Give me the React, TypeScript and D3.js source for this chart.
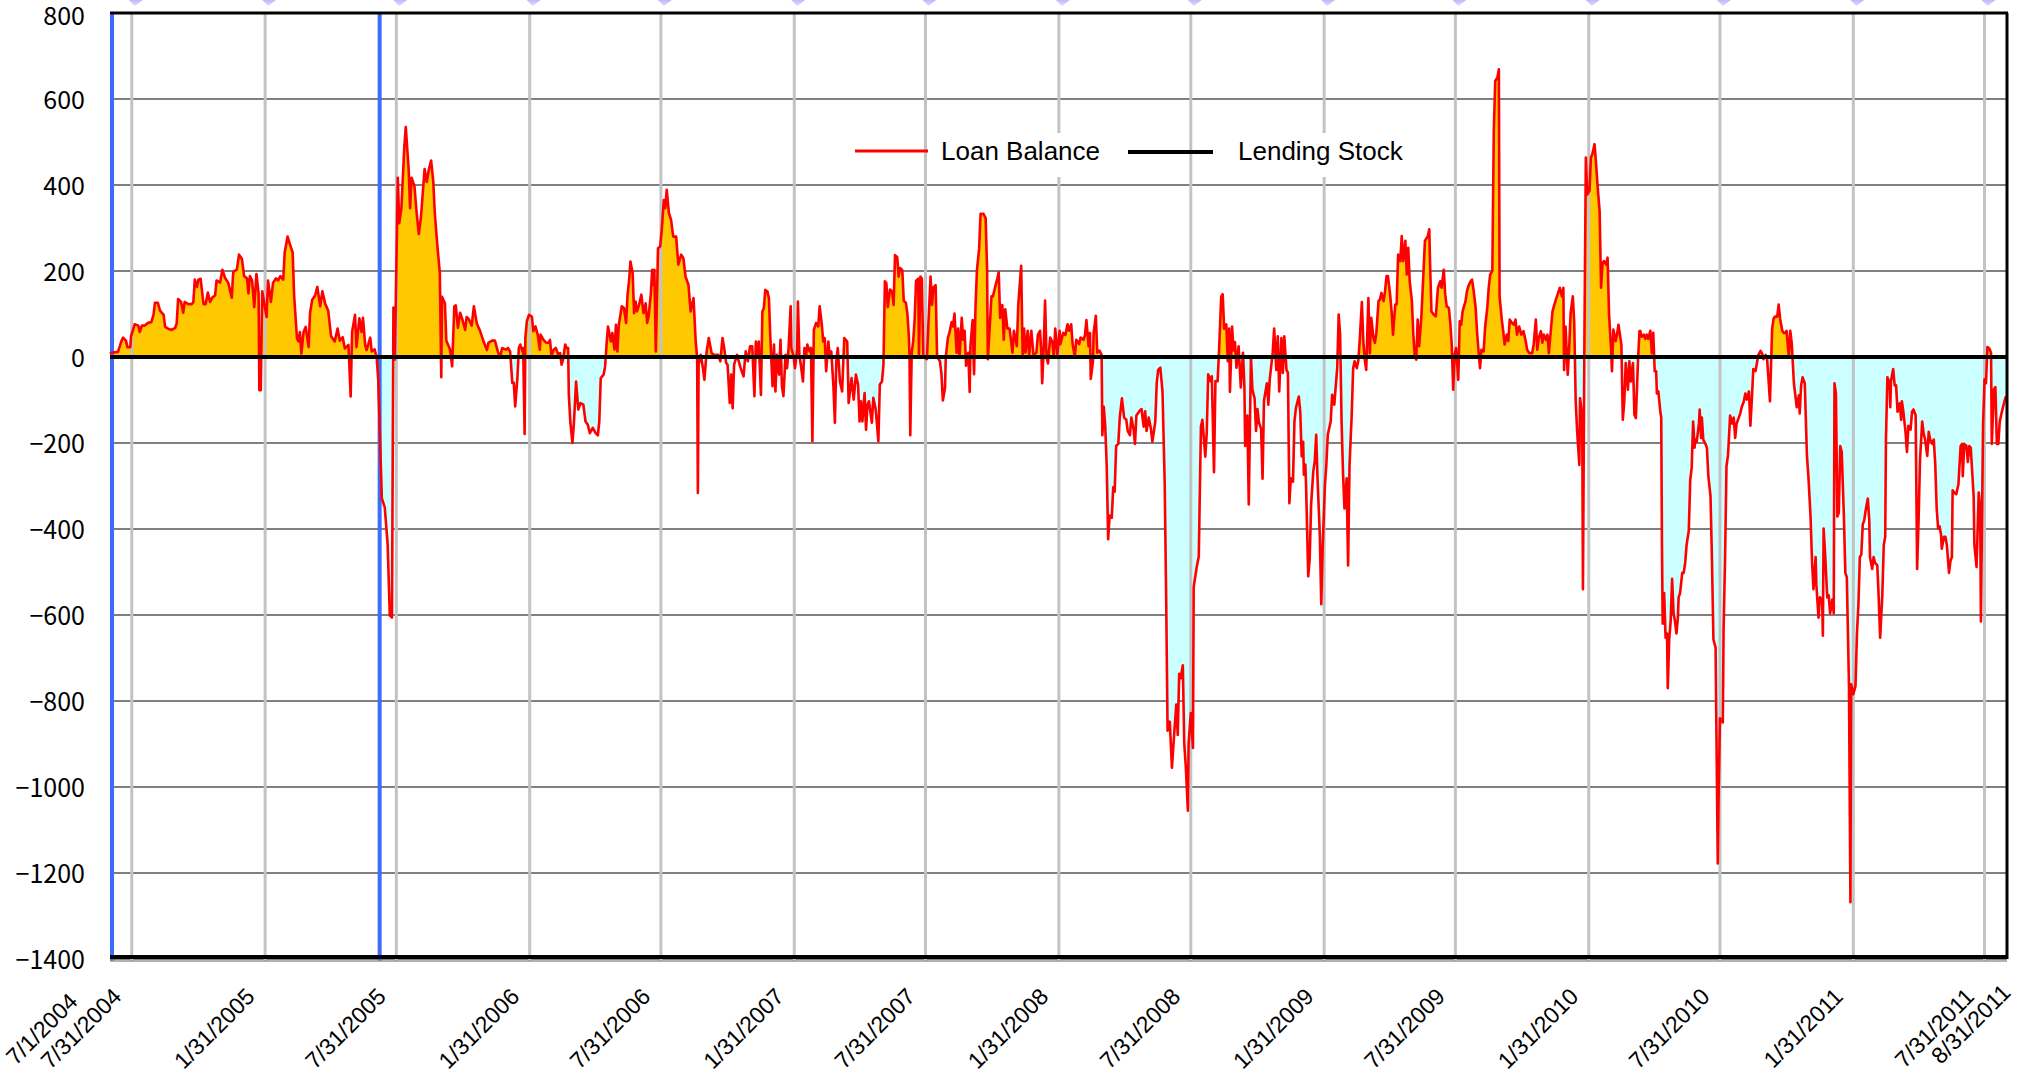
import React from "react";
import * as d3 from "d3";

// ---- axis / labels ----
const START_DATE = "7/1/2004";
const END_DATE = "8/31/2011";
const xTickLabels = [
  "7/1/2004", "7/31/2004", "1/31/2005", "7/31/2005", "1/31/2006", "7/31/2006",
  "1/31/2007", "7/31/2007", "1/31/2008", "7/31/2008", "1/31/2009", "7/31/2009",
  "1/31/2010", "7/31/2010", "1/31/2011", "7/31/2011", "8/31/2011",
];
const gridDates = xTickLabels.slice(1, -1);
const yTicks = [800, 600, 400, 200, 0, -200, -400, -600, -800, -1000, -1200, -1400];
const markerDates = ["7/1/2004", "7/8/2005"];
const legendNames = ["Loan Balance", "Lending Stock"];
const lendingStockLevel = 0;

// ---- Loan Balance: [days since 7/1/2004, value] ----
const loan2004: [number, number][] = [
  [0, 8], [2, 10], [11, 12], [16, 38], [18, 45], [22, 38], [24, 23], [28, 23], [29, 48], [34, 76],
  [39, 73], [41, 58], [44, 73], [48, 73], [53, 80], [57, 81], [60, 98], [62, 126], [66, 126], [69, 108],
  [74, 98], [76, 70], [80, 66], [85, 63], [90, 68], [92, 78], [94, 135], [98, 128], [101, 103], [103, 128],
  [108, 123], [113, 123], [115, 128], [117, 180], [120, 163], [122, 180], [125, 182], [129, 123], [132, 123],
  [135, 150], [138, 128], [141, 138], [145, 143], [147, 178], [152, 173], [155, 203], [159, 183], [163, 173],
  [168, 138], [170, 198], [175, 203], [178, 238], [182, 228],
];
const loan2005: [number, number][] = [
  [185, 188], [189, 183], [191, 148], [193, 188], [196, 178], [199, 116], [202, 193], [205, 148], [206, -77],
  [208, -77], [210, 153], [216, 93], [218, 178], [222, 128], [225, 173], [229, 183], [232, 178], [235, 188],
  [239, 180], [241, 243], [245, 280], [248, 263], [252, 243], [254, 143], [258, 43], [260, 36], [262, 58],
  [264, 8], [267, 58], [270, 70], [274, 23], [276, 103], [279, 133], [283, 143], [286, 163], [290, 118],
  [293, 153], [297, 123], [301, 108], [305, 48], [310, 36], [314, 66], [317, 38], [321, 46], [324, 20],
  [329, 28], [332, -92], [334, 58], [338, 98], [340, 23], [344, 90], [347, 58], [349, 91], [352, 28],
  [354, 16], [359, 45], [361, 13], [365, 18], [368, -2], [370, -52], [375, -329], [379, -349], [383, -435],
  [386, -601], [389, -606], [391, 115], [393, -6], [397, 417], [399, 311], [402, 346], [406, 488], [408, 535],
  [412, 437], [414, 346], [416, 417], [420, 397], [423, 336], [426, 286], [429, 326], [434, 437], [437, 407],
  [440, 437], [443, 457], [446, 407], [448, 336], [452, 251], [455, 196], [457, -47], [458, 140], [462, 125],
  [464, 38], [469, 18], [472, -22], [475, 118], [477, 120], [480, 68], [483, 103], [486, 88], [490, 63],
  [492, 93], [495, 88], [499, 73], [502, 118], [506, 78], [510, 63], [515, 38], [520, 16], [522, 33],
  [527, 38], [531, 38], [535, 13], [538, -2], [541, 21], [546, 17],
];
const loan2006: [number, number][] = [
  [549, 21], [552, 13], [555, -60], [557, -60], [559, -115], [562, -49], [564, 21], [566, 29], [569, 13],
  [570, 21], [572, -179], [573, 44], [575, 83], [578, 98], [582, 94], [584, 60], [587, 71], [590, 52],
  [593, 17], [594, 52], [598, 40], [602, 33], [605, 33], [607, 40], [609, 2], [612, 17], [615, 21], [618, 7],
  [621, 9], [623, -18], [625, -6], [628, 29], [630, 21], [632, 21], [633, -88], [635, -150], [638, -200],
  [640, -153], [643, -57], [646, -122], [649, -107], [653, -111], [656, -150], [659, -157], [662, -177],
  [666, -165], [670, -177], [673, -182], [675, -150], [677, -49], [681, -41], [683, -22], [685, 29],
  [687, 71], [691, 36], [693, 56], [696, 17], [698, 75], [700, 13], [702, 75], [706, 118], [709, 114],
  [712, 79], [714, 145], [716, 176], [718, 222], [721, 195], [723, 102], [725, 129], [727, 106], [730, 122],
  [733, 145], [736, 102], [739, 125], [741, 79], [743, 94], [746, 145], [748, 203], [750, 168], [751, 203],
  [753, 13], [756, 253], [759, 257], [761, 292], [764, 365], [766, 346], [768, 389], [771, 335], [774, 319],
  [777, 280], [781, 280], [784, 215], [788, 238], [791, 230], [794, 187], [798, 168], [801, 106], [805, 137],
  [808, 36], [810, -2], [811, -316], [812, -18], [815, 5], [818, -26], [820, -53], [823, 11], [826, 44],
  [830, 9], [833, 5], [839, 5], [842, -10], [845, 44], [848, 13], [850, -14], [852, -18], [855, -107],
  [857, -41], [859, -119], [861, -18], [865, 5], [868, -14], [870, -26], [874, -45], [877, 13], [880, -10],
  [883, 25], [886, 25], [889, -91], [891, 36], [893, 5], [895, 36], [898, -88], [900, 106], [902, 114],
  [904, 156], [907, 152], [909, 137], [911, 44],
];
const loan2007: [number, number][] = [
  [914, -68], [916, 29], [918, -80], [920, 5], [923, -41], [925, 40], [927, -68], [929, -91], [932, 5],
  [934, -26], [936, 17], [939, 118], [940, 21], [943, 2], [945, -26], [948, 17], [949, 129], [951, 5],
  [953, -18], [956, -57], [958, 21], [960, -2], [962, 29], [965, 13], [967, 21], [969, -196], [971, 63],
  [974, 79], [977, 71], [979, 118], [982, 75], [984, 36], [986, 44], [988, -33], [991, 36], [993, -2],
  [995, 13], [998, -68], [1000, -153], [1002, -10], [1004, 21], [1007, -57], [1010, -80], [1013, 44],
  [1017, 36], [1019, -107], [1023, -49], [1026, -99], [1029, -41], [1032, -64], [1034, -150], [1036, -103],
  [1038, -150], [1041, -84], [1043, -169], [1045, -111], [1047, -103], [1051, -153], [1053, -95],
  [1056, -119], [1057, -134], [1060, -196], [1062, -64], [1065, -57], [1067, -18], [1069, 176], [1071, 172],
  [1073, 116], [1076, 157], [1079, 152], [1081, 121], [1083, 237], [1086, 232], [1088, 187], [1090, 207],
  [1093, 202], [1095, 131], [1098, 126], [1100, 101], [1102, 51], [1103, 0], [1104, -182], [1106, 10],
  [1108, 35], [1110, 86], [1112, 177], [1115, 182], [1116, 0], [1118, 187], [1120, 182], [1122, 0],
  [1127, -5], [1129, 76], [1132, 187], [1134, 121], [1136, 162], [1139, 167], [1141, 0], [1145, -10],
  [1147, -40], [1149, -101], [1152, -71], [1153, 0], [1156, 45], [1158, 56], [1161, 81], [1163, 71],
  [1165, 101], [1168, 10], [1170, 66], [1172, 0], [1175, 91], [1177, 40], [1179, 61], [1181, -20],
  [1184, 10], [1186, -81], [1187, 25], [1190, 86], [1192, -40], [1194, 116], [1196, 202], [1199, 252],
  [1201, 333], [1205, 333], [1208, 323], [1210, 202], [1211, -5], [1214, 81], [1216, 141], [1218, 141],
  [1221, 162], [1224, 182], [1226, 197], [1228, 91], [1231, 121], [1233, 40], [1235, 111], [1238, 66],
  [1241, 66], [1245, 10], [1247, 61], [1251, 25], [1253, 121], [1255, 167], [1257, 212], [1259, 5],
  [1261, 66], [1263, 10], [1266, 61], [1268, 5], [1271, 61], [1274, 5], [1278, 10],
];
const loan2008: [number, number][] = [
  [1280, 51], [1283, 61], [1285, 5], [1286, -61], [1288, 20], [1290, 131], [1292, 0], [1294, -15],
  [1297, 45], [1300, 35], [1302, 0], [1304, 66], [1307, 5], [1310, 61], [1311, 30], [1315, 56], [1318, 51],
  [1321, 76], [1323, 61], [1326, 76], [1328, 30], [1331, 0], [1333, 40], [1337, 30], [1339, 45], [1343, 40],
  [1345, 51], [1347, 86], [1350, 25], [1352, 56], [1353, -51], [1356, -10], [1357, 56], [1360, 96],
  [1362, 10], [1365, 15], [1368, 5], [1369, -182], [1371, -116], [1373, -162], [1375, -252], [1377, -424],
  [1379, -369], [1382, -374], [1384, -303], [1386, -313], [1388, -207], [1391, -202], [1393, -141],
  [1396, -96], [1399, -141], [1402, -146], [1404, -172], [1407, -182], [1409, -141], [1412, -167],
  [1414, -202], [1416, -136], [1420, -126], [1423, -121], [1426, -162], [1428, -126], [1430, -172],
  [1433, -141], [1436, -167], [1438, -197], [1442, -151], [1444, -61], [1446, -30], [1449, -25], [1452, -81],
  [1455, -293], [1457, -556], [1459, -869], [1462, -848], [1465, -955], [1468, -879], [1471, -808],
  [1473, -879], [1475, -737], [1477, -747], [1480, -717], [1482, -899], [1484, -949], [1487, -1055],
  [1488, -899], [1491, -828], [1494, -909], [1495, -535], [1499, -490], [1502, -464], [1505, -162],
  [1507, -146], [1511, -232], [1513, -177], [1515, -40], [1518, -56], [1520, -45], [1523, -268], [1525, -56],
  [1528, -56], [1530, 15], [1533, 141], [1535, 146], [1537, 66], [1540, 76], [1542, -10], [1544, 66],
  [1545, -81], [1548, 71], [1550, 15], [1552, 35], [1554, -25], [1557, 25], [1560, -71], [1563, 10],
  [1565, -71], [1566, -207], [1569, -136], [1571, -343], [1574, 0], [1576, -76], [1579, -96], [1581, -172],
  [1583, -121], [1585, -152], [1588, -167], [1590, -283], [1592, -101], [1596, -61], [1598, -111],
  [1600, -51], [1604, 10], [1606, 66], [1609, -30], [1611, 48], [1613, -80], [1616, 44], [1618, -37],
  [1620, 48], [1623, -30], [1625, -37], [1627, -340], [1629, -282], [1632, -290], [1634, -150], [1636, -119],
  [1640, -92], [1642, -127], [1644, -231],
];
const loan2009: [number, number][] = [
  [1646, -197], [1647, -274], [1649, -250], [1650, -297], [1653, -510], [1655, -470], [1657, -344],
  [1660, -266], [1662, -243], [1664, -181], [1666, -290], [1669, -414], [1671, -575], [1673, -440],
  [1676, -300], [1678, -250], [1680, -181], [1684, -150], [1686, -88], [1689, -111], [1690, -88], [1693, -26],
  [1695, 99], [1697, 52], [1699, -150], [1701, -270], [1703, -352], [1706, -282], [1708, -485], [1710, -251],
  [1713, -134], [1715, -26], [1717, -10], [1720, -26], [1722, -10], [1724, 37], [1727, 128], [1729, 37],
  [1731, -6], [1733, -30], [1736, 137], [1738, 9], [1740, 91], [1743, 44], [1745, 33], [1747, 56], [1750, 130],
  [1752, 134], [1754, 149], [1757, 130], [1759, 153], [1761, 188], [1763, 188], [1766, 145], [1768, 106],
  [1770, 52], [1773, 122], [1775, 122], [1777, 238], [1780, 223], [1782, 281], [1784, 223], [1787, 270],
  [1789, 192], [1791, 254], [1793, 176], [1796, 130], [1798, 52], [1800, 2], [1802, -6], [1804, 87],
  [1806, 25], [1809, 91], [1811, 161], [1814, 270], [1818, 281], [1820, 297], [1821, 223], [1823, 106],
  [1826, 99], [1829, 95], [1832, 161], [1835, 176], [1837, 161], [1840, 203], [1842, 145], [1844, 118],
  [1847, 114], [1849, 79], [1851, 29], [1853, -76], [1855, 5], [1857, 21], [1860, -53], [1862, 83],
  [1864, 75], [1866, 106], [1870, 130], [1872, 153], [1874, 165], [1877, 176], [1879, 180], [1881, 157],
  [1884, 114], [1886, 56], [1888, 13], [1890, -26], [1892, 17], [1895, 13], [1897, 68], [1900, 114],
  [1902, 161], [1904, 192], [1907, 200], [1909, 526], [1911, 642], [1914, 650], [1916, 669], [1917, 141],
  [1920, 87], [1922, 60], [1924, 29], [1927, 52], [1929, 37], [1931, 87], [1934, 79], [1937, 75], [1939, 87],
  [1941, 52], [1944, 71], [1947, 52], [1950, 60], [1953, 37], [1955, 17], [1958, 9], [1962, 9], [1964, 29],
  [1967, 87], [1969, 17], [1971, 44], [1974, 60], [1976, 33], [1978, 52], [1981, 40], [1983, 52], [1985, 9],
  [1988, 68], [1990, 106], [1994, 130], [1997, 145], [2000, 161], [2003, 141], [2005, 161], [2006, -30],
  [2008, 71],
];
const loan2010: [number, number][] = [
  [2011, -41], [2013, 21], [2015, 102], [2018, 141], [2020, 79], [2022, -103], [2024, -173], [2027, -251],
  [2028, -96], [2031, -138], [2032, -540], [2034, 37], [2036, 464], [2038, 378], [2041, 386], [2043, 464],
  [2045, 472], [2048, 495], [2050, 452], [2052, 402], [2055, 339], [2057, 161], [2059, 219], [2061, 223],
  [2064, 215], [2066, 231], [2068, 99], [2071, 13], [2072, -33], [2074, 64], [2077, 37], [2079, 52],
  [2081, 75], [2085, 29], [2087, -146], [2089, -103], [2091, -14], [2094, -76], [2096, -10], [2098, -57],
  [2101, -14], [2103, -134], [2105, -142], [2108, -6], [2110, 60], [2111, 61], [2113, 47], [2116, 52],
  [2118, 42], [2120, 52], [2122, 42], [2125, 61], [2127, 9], [2129, 56], [2131, -33], [2133, -33],
  [2134, -85], [2136, -80], [2139, -131], [2140, -140], [2141, -437], [2142, -620], [2144, -549],
  [2146, -653], [2148, -643], [2149, -770], [2151, -657], [2153, -615], [2155, -516], [2157, -596],
  [2159, -615], [2161, -643], [2163, -606], [2164, -559], [2166, -549], [2169, -502], [2171, -502],
  [2173, -479], [2175, -437], [2178, -404], [2180, -286], [2182, -258], [2184, -150], [2186, -211],
  [2187, -192], [2189, -197], [2192, -155], [2193, -122], [2195, -188], [2196, -141], [2198, -192],
  [2201, -202], [2203, -211], [2205, -277], [2208, -324], [2210, -474], [2212, -657], [2215, -676],
  [2216, -850], [2218, -1178], [2219, -1038], [2221, -840], [2225, -850], [2226, -634], [2228, -474],
  [2230, -254], [2232, -230], [2233, -202], [2235, -136], [2238, -155], [2240, -141], [2242, -188],
  [2244, -155], [2247, -141], [2249, -131], [2251, -117], [2254, -103], [2256, -85], [2258, -99], [2261, -80],
  [2263, -160], [2265, -99], [2267, -28], [2270, -33], [2272, -14], [2274, 5], [2277, 14], [2279, 9],
  [2281, -5], [2284, 5], [2286, -5], [2288, -52], [2290, -103], [2293, 66], [2295, 89], [2297, 94],
  [2300, 94], [2302, 122], [2304, 89], [2307, 61], [2309, 56], [2311, 56], [2313, 61], [2316, 0], [2318, 61],
  [2320, 33], [2323, -61], [2325, -89], [2327, -117], [2330, -89], [2331, -131], [2333, -66], [2335, -47],
  [2338, -61], [2341, -230], [2343, -277], [2346, -371], [2348, -474], [2350, -540], [2353, -465],
  [2354, -530], [2357, -606], [2359, -559], [2362, -564], [2363, -648], [2364, -399], [2366, -455],
  [2369, -559], [2371, -554], [2373, -596],
];
const loan2011: [number, number][] = [
  [2376, -564], [2378, -596], [2379, -61], [2381, -85], [2383, -371], [2385, -362], [2387, -207],
  [2389, -221], [2392, -371], [2394, -502], [2396, -512], [2399, -765], [2401, -1268], [2402, -761],
  [2405, -784], [2408, -765], [2410, -643], [2412, -577], [2414, -465], [2416, -460], [2418, -390],
  [2420, -380], [2422, -357], [2425, -329], [2427, -380], [2428, -465], [2431, -493], [2433, -465],
  [2435, -479], [2438, -484], [2440, -559], [2442, -653], [2445, -554], [2447, -437], [2449, -418],
  [2450, -192], [2452, -47], [2455, -61], [2456, -117], [2457, -56], [2460, -28], [2462, -66], [2464, -66],
  [2466, -127], [2469, -108], [2471, -146], [2472, -103], [2474, -127], [2477, -174], [2479, -221],
  [2481, -160], [2484, -169], [2486, -127], [2488, -122], [2491, -136], [2493, -493], [2495, -380],
  [2497, -240], [2500, -150], [2502, -178], [2504, -192], [2507, -230], [2509, -174], [2511, -192],
  [2514, -202], [2516, -192], [2518, -249], [2520, -352], [2522, -399], [2524, -394], [2526, -413],
  [2527, -446], [2530, -418], [2532, -418], [2534, -437], [2537, -502], [2539, -474], [2541, -465],
  [2542, -310], [2544, -315], [2547, -319], [2550, -296], [2553, -207], [2555, -202], [2556, -277],
  [2558, -202], [2561, -207], [2563, -244], [2565, -207], [2567, -211], [2570, -296], [2571, -324],
  [2572, -437], [2575, -488], [2578, -315], [2580, -352], [2581, -615], [2583, -305], [2584, -155],
  [2586, -52], [2588, -61], [2590, 23], [2593, 19], [2594, 14], [2595, 9], [2596, -202], [2599, -75],
  [2601, -70], [2603, -202], [2605, -202], [2607, -150], [2610, -127], [2612, -113], [2615, -94], [2617, -94],
];

type P = { date: Date; v: number };

export default function App() {
  const parse = d3.timeParse("%m/%d/%Y");
  const t0 = parse(START_DATE) as Date;
  const t1 = parse(END_DATE) as Date;
  const L = 110, R = 2007, T = 13, B = 959;
  const x = d3.scaleTime().domain([t0, t1]).range([L, R]);
  const y = d3.scaleLinear().domain([-1400, 800]).range([B, T]);
  const y0 = y(0);

  const balance: P[] = [
    ...loan2004, ...loan2005, ...loan2006, ...loan2007,
    ...loan2008, ...loan2009, ...loan2010, ...loan2011,
  ].map(([d, v]) => ({ date: d3.timeDay.offset(t0, d), v }));
  const stock: P[] = balance.map((p) => ({ date: p.date, v: lendingStockLevel }));

  const line = d3.line<P>().x((p) => x(p.date)).y((p) => y(p.v));
  const area = d3.area<P>().x((p) => x(p.date)).y0(y0).y1((p) => y(p.v));
  const areaPath = area(balance) || "";

  const labelFont = "'Liberation Sans', Arial, sans-serif";

  return (
    <svg width={2017} height={1081} style={{ position: "absolute", left: 0, top: 0, background: "#fff" }}>
      <defs>
        <clipPath id="clipPos"><rect x={L} y={T} width={R - L} height={y0 - T} /></clipPath>
        <clipPath id="clipNeg"><rect x={L} y={y0} width={R - L} height={B - y0} /></clipPath>
        <linearGradient id="mk" x1="0" y1="0" x2="0" y2="1">
          <stop offset="0" stopColor="#b9aaf8" />
          <stop offset="1" stopColor="#ddd6fb" />
        </linearGradient>
      </defs>
      <rect x={0} y={0} width={2017} height={1081} fill="#fff" />

      {/* horizontal gridlines */}
      {yTicks.map((t) => (
        <line key={"h" + t} x1={L} x2={R} y1={y(t)} y2={y(t)} stroke="#555" strokeWidth={1.5} />
      ))}

      {/* fills */}
      <path d={areaPath} fill="#FFC800" clipPath="url(#clipPos)" />
      <path d={areaPath} fill="#CCFFFF" clipPath="url(#clipNeg)" />

      {/* vertical gridlines */}
      {gridDates.map((s) => {
        const gx = x(parse(s) as Date);
        return <line key={"v" + s} x1={gx} x2={gx} y1={T} y2={B + 2} stroke="#c3c3c3" strokeWidth={3} />;
      })}

      {/* top marks */}
      {gridDates.map((s) => {
        const gx = x(parse(s) as Date);
        return (
          <polygon key={"m" + s} points={`${gx - 3},0 ${gx + 11},0 ${gx + 3},6`} fill="url(#mk)" opacity={0.85} />
        );
      })}

      {/* blue markers */}
      {markerDates.map((s) => {
        const mx = x(parse(s) as Date) + (s === START_DATE ? 2 : 0);
        return <line key={"b" + s} x1={mx} x2={mx} y1={T} y2={B + 2} stroke="#3d6cf7" strokeWidth={4} />;
      })}

      {/* loan balance line */}
      <path d={line(balance) || ""} fill="none" stroke="#ff0000" strokeWidth={2.6} strokeLinejoin="round" />

      {/* lending stock (zero) line */}
      <path d={line(stock) || ""} fill="none" stroke="#000" strokeWidth={4} />

      {/* borders */}
      <line x1={L} x2={R} y1={B + 2} y2={B + 2} stroke="#999" strokeWidth={1.5} />
      <line x1={L} x2={R + 1} y1={B - 2} y2={B - 2} stroke="#000" strokeWidth={4} />
      <line x1={L} x2={R + 1} y1={T} y2={T} stroke="#000" strokeWidth={3} />
      <line x1={R} x2={R} y1={T} y2={B} stroke="#000" strokeWidth={3} />

      {/* y labels */}
      {yTicks.map((t) => (
        <text key={"yl" + t} x={85} y={y(t) + (t === 800 ? 3 : 1)} dy="0.36em" textAnchor="end"
          fontFamily="'Noto Sans CJK JP', 'Noto Sans', sans-serif" fontSize={25} fill="#000">
          {t < 0 ? "\u2212" + Math.abs(t) : String(t)}
        </text>
      ))}

      {/* x labels */}
      {xTickLabels.map((s, i) => {
        let gx = x(parse(s) as Date) - 9;
        let gy = 998;
        if (i === 0) { gx -= 22; gy += 5; }
        if (i === xTickLabels.length - 1) { gx += 14; gy -= 4; }
        return (
          <text key={"xl" + s} x={0} y={0} textAnchor="end" fontFamily={labelFont} fontSize={23}
            fill="#000" transform={`translate(${gx},${gy}) rotate(-45)`}>
            {s}
          </text>
        );
      })}

      {/* legend */}
      <line x1={855} x2={928} y1={151} y2={151} stroke="#ff0000" strokeWidth={3} />
      <rect x={928} y={133} width={184} height={44} fill="#fff" />
      <text x={941} y={160} fontFamily={labelFont} fontSize={26} fill="#000">{legendNames[0]}</text>
      <line x1={1128} x2={1213} y1={152} y2={152} stroke="#000" strokeWidth={4} />
      <rect x={1226} y={133} width={190} height={44} fill="#fff" />
      <text x={1238} y={160} fontFamily={labelFont} fontSize={26} fill="#000">{legendNames[1]}</text>
    </svg>
  );
}
